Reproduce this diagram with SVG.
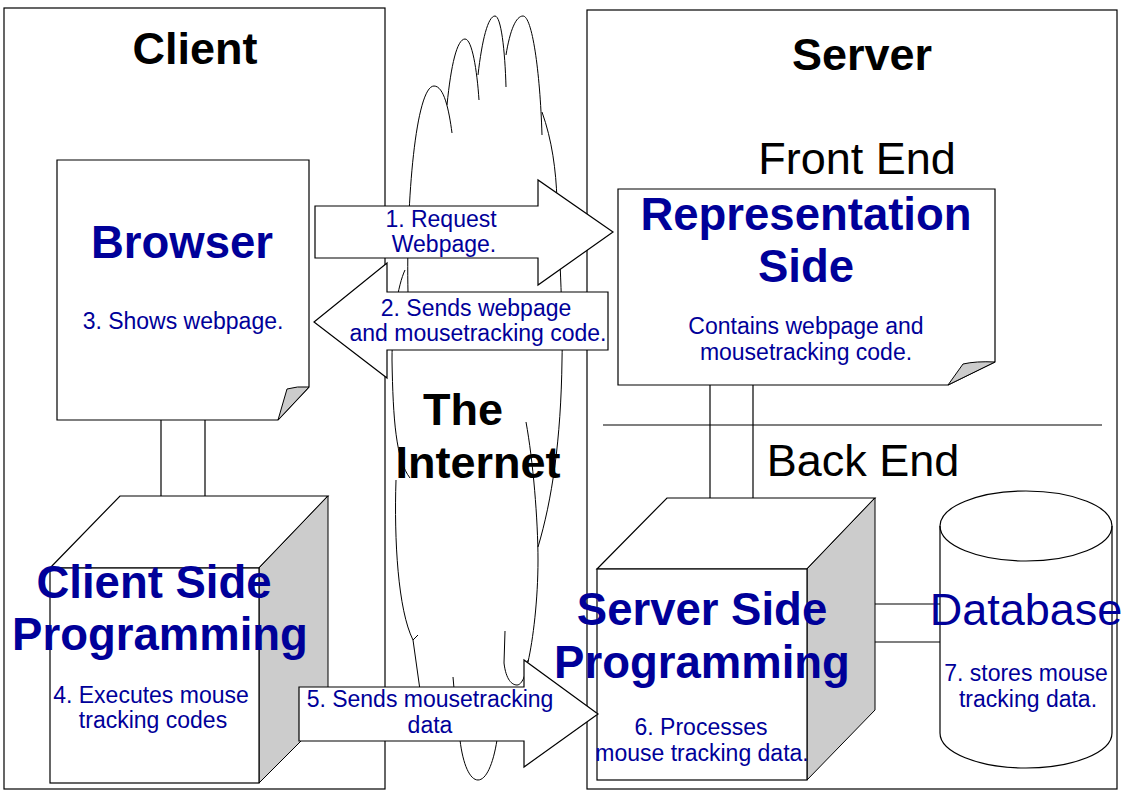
<svg xmlns="http://www.w3.org/2000/svg" width="1123" height="794" viewBox="0 0 1123 794">
<style>
.box{fill:#fff;stroke:#000;stroke-width:1.2}
.gray{fill:#cccccc;stroke:#000;stroke-width:1}
.cl{fill:none;stroke:#000;stroke-width:1}
.ln{fill:none;stroke:#000;stroke-width:1.2}
.h{font-family:'Liberation Sans',Arial,sans-serif;font-weight:bold;font-size:45px;fill:#000;text-anchor:middle}
.r{font-family:'Liberation Sans',Arial,sans-serif;font-size:45px;fill:#000;text-anchor:middle}
.t{font-family:'Liberation Sans',Arial,sans-serif;font-weight:bold;font-size:45.5px;fill:#000099;text-anchor:middle}
.tr{font-family:'Liberation Sans',Arial,sans-serif;font-size:45px;fill:#000099;text-anchor:middle}
.s{font-family:'Liberation Sans',Arial,sans-serif;font-size:23px;fill:#000099;text-anchor:middle}
</style>
<rect width="1123" height="794" fill="#fff"/>
<g id="client">
<rect class="box" x="4" y="8" width="381" height="781"/>
<text class="h" x="195" y="64">Client</text>
</g>
<g id="server">
<rect class="box" x="587" y="10" width="530" height="779"/>
<text class="h" x="862" y="70">Server</text>
<text class="r" x="857" y="174">Front End</text>
<line class="ln" x1="603" y1="425" x2="1102" y2="425"/>
<text class="r" x="863" y="476">Back End</text>
</g>
<g id="internet">
<path class="cl" d="M408,293 C406,200 416,86 434,86 C444,86 449,110 452,133"/>
<path class="cl" d="M447,105 C451,65 457,39 465,39 C472,39 477,70 479,100"/>
<path class="cl" d="M478,75 C482,40 488,16 495,16 C501,16 505,50 506,87"/>
<path class="cl" d="M506,55 C510,30 516,16 523,16 C532,16 540,70 542,135"/>
<path class="cl" d="M542,112 C552,140 556,170 557,200 C560,260 563,320 562,360 C561,440 552,500 538,547"/>
<path class="cl" d="M526,422 C533,460 538,520 538,560 C538,600 533,640 528,662"/>
<path class="cl" d="M505,631 L504,663 C506,680 512,685 517,685 C522,685 526,675 528,660"/>
<path class="cl" d="M453,677 L455,700 M460,740 C463,765 470,780 478,780 C486,780 493,765 497,740"/>
<path class="cl" d="M405,270 C398,285 392,320 392,360 C393,420 396,460 410,478"/>
<path class="cl" d="M396,480 C394,540 398,610 413,640 L418,635 M413,640 L420,690"/>
<text class="h" x="463" y="425">The</text>
<text class="h" x="478" y="478">Internet</text>
</g>
<g id="connectors">
<line class="ln" x1="161" y1="420" x2="161" y2="496"/>
<line class="ln" x1="205" y1="420" x2="205" y2="496"/>
<line class="ln" x1="710" y1="385" x2="710" y2="498"/>
<line class="ln" x1="753" y1="385" x2="753" y2="498"/>
<line class="ln" x1="875" y1="604" x2="940" y2="604"/>
<line class="ln" x1="875" y1="642" x2="940" y2="642"/>
</g>
<g id="browser">
<path class="box" d="M57,160 H309 V387 L278,420 H57 Z"/>
<path class="gray" d="M278,420 L309,387 Q297,386 287,389 Z"/>
<text class="t" x="182" y="258">Browser</text>
<text class="s" x="183" y="329">3. Shows webpage.</text>
</g>
<g id="representation">
<path class="box" d="M618,189 H995 V362 L948,385 H618 Z"/>
<path class="gray" d="M948,385 L995,362 Q976,361 963,364 Z"/>
<text class="t" x="806" y="230">Representation</text>
<text class="t" x="806" y="282">Side</text>
<text class="s" x="806" y="334">Contains webpage and</text>
<text class="s" x="806" y="360">mousetracking code.</text>
</g>
<g id="client-side">
<path class="box" d="M50,568 L120,496 H328 L259,568 Z"/>
<path class="gray" d="M259,568 L328,496 V714 L259,783 Z"/>
<rect class="box" x="50" y="568" width="209" height="215"/>
<text class="t" x="154" y="598">Client Side</text>
<text class="t" x="160" y="650">Programming</text>
<text class="s" x="151" y="703">4. Executes mouse</text>
<text class="s" x="153" y="728">tracking codes</text>
</g>
<g id="server-side">
<path class="box" d="M597,569 L667,498 H875 L807,569 Z"/>
<path class="gray" d="M807,569 L875,498 V710 L807,780 Z"/>
<rect class="box" x="597" y="569" width="210" height="211"/>
<text class="t" x="702" y="625">Server Side</text>
<text class="t" x="702" y="678">Programming</text>
<text class="s" x="701" y="735">6. Processes</text>
<text class="s" x="702" y="761">mouse tracking data.</text>
</g>
<g id="database">
<path class="box" d="M940,526 V733 A86,35 0 0 0 1112,733 V526 A86,35 0 0 0 940,526 Z"/>
<path class="ln" d="M940,526 A86,35 0 0 0 1112,526"/>
<text class="tr" x="1026" y="625">Database</text>
<text class="s" x="1026" y="681">7. stores mouse</text>
<text class="s" x="1028" y="707">tracking data.</text>
</g>
<g id="arrow1">
<path class="box" d="M315,206 H538 V180 L613,232 L538,285 V258 H315 Z"/>
<text class="s" x="441" y="227">1. Request</text>
<text class="s" x="444" y="252">Webpage.</text>
</g>
<g id="arrow2">
<path class="box" d="M608,292 H387 V263 L314,322 L387,378 V350 H608 Z"/>
<text class="s" x="476" y="316">2. Sends webpage</text>
<text class="s" x="478" y="341">and mousetracking code.</text>
</g>
<g id="arrow5">
<path class="box" d="M299,687 H524 V660 L598,714 L524,767 V741 H299 Z"/>
<text class="s" x="430" y="707">5. Sends mousetracking</text>
<text class="s" x="430" y="733">data</text>
</g>
</svg>
